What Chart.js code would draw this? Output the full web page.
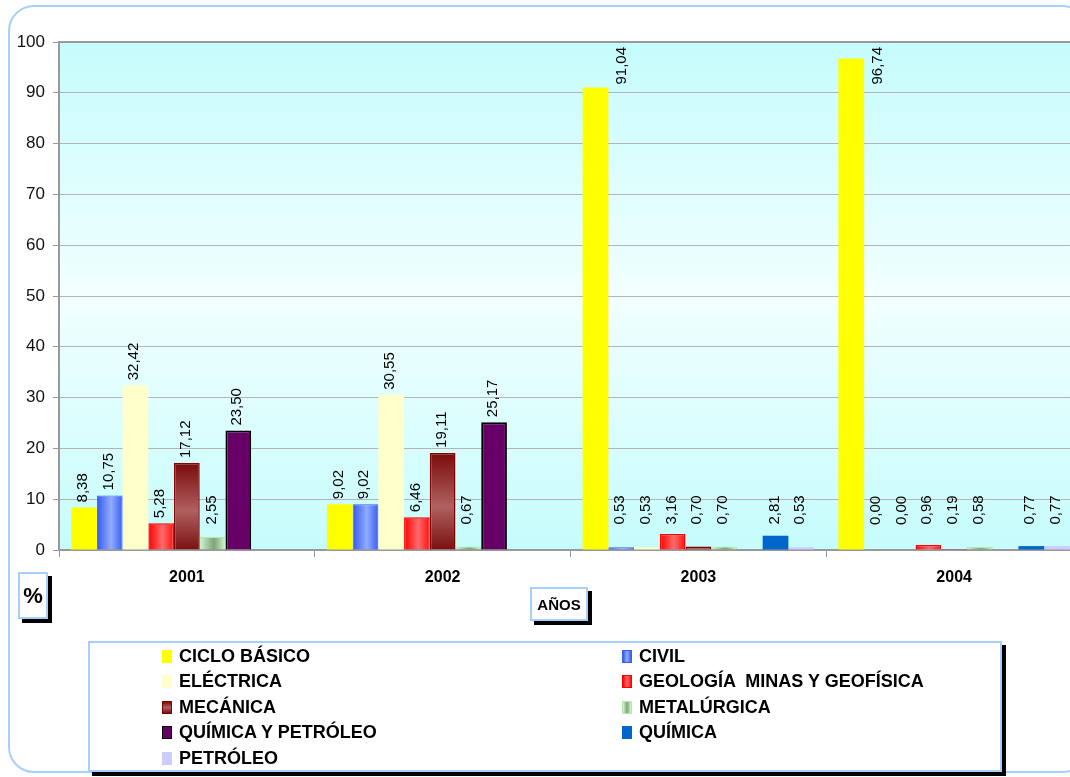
<!DOCTYPE html>
<html>
<head>
<meta charset="utf-8">
<script src="https://cdn.jsdelivr.net/npm/chart.js"></script>
<style>
  html, body { margin: 0; padding: 0; background: #fff; overflow: hidden; }
  body { width: 1070px; height: 777px; position: relative; font-family: Arial, "Liberation Sans", sans-serif; }
  #frame {
    position: absolute; left: 8px; top: 5px; width: 1080px; height: 768px;
    border: 2px solid #a8cffa; border-radius: 26px; box-sizing: border-box;
  }
  #chart { position: absolute; left: 0; top: 0; }
  .box {
    position: absolute; background: #fff; border: 2px solid #a8cffa;
    box-shadow: 4px 4px 0 #000; font-weight: bold; color: #000;
    display: flex; align-items: center; justify-content: center; box-sizing: border-box;
  }
  #pct { left: 18px; top: 572px; width: 30px; height: 47px; font-size: 22px; }
  #anos { left: 530px; top: 587px; width: 58px; height: 34px; font-size: 15px; }
  #legend {
    position: absolute; left: 88px; top: 641px; width: 914px; height: 131px;
    border: 2px solid #a8cffa; box-shadow: 4px 4px 0 #000; box-sizing: border-box; background: #fff;
  }
  .item {
    position: absolute; height: 20px; display: flex; align-items: center;
    font-weight: bold; font-size: 18px; color: #000; white-space: pre;
  }
  .sw { width: 10px; height: 13px; margin-right: 7px; box-sizing: border-box; }
</style>
</head>
<body>
<div id="frame"></div>
<canvas id="chart" width="1082" height="777"></canvas>
<div class="box" id="pct">%</div>
<div class="box" id="anos">AÑOS</div>
<div id="legend"></div>
<script>
// chart data
const years = ['2001', '2002', '2003', '2004'];
const seriesNames = ['CICLO BÁSICO', 'CIVIL', 'ELÉCTRICA', 'GEOLOGÍA  MINAS Y GEOFÍSICA', 'MECÁNICA',
                     'METALÚRGICA', 'QUÍMICA Y PETRÓLEO', 'QUÍMICA', 'PETRÓLEO'];
const cicloBasico = [8.38, 9.02, 91.04, 96.74];
const civil = [10.75, 9.02, 0.53, 0.00];
const electrica = [32.42, 30.55, 0.53, 0.00];
const geologia = [5.28, 6.46, 3.16, 0.96];
const mecanica = [17.12, 19.11, 0.70, 0.19];
const metalurgica = [2.55, 0.67, 0.70, 0.58];
const quimicaPetroleo = [23.50, 25.17, null, null];
const quimica = [null, null, 2.81, 0.77];
const petroleo = [null, null, 0.53, 0.77];
const yMin = 0, yMax = 100, yStep = 10;

const seriesValues = [cicloBasico, civil, electrica, geologia, mecanica, metalurgica, quimicaPetroleo, quimica, petroleo];

// colours: base, then gradient stops (h = horizontal, v = vertical)
const seriesStyle = [
    { fill: '#ffff00', border: '#ffff00', bw: 0 },
    { fill: '#4a6ef5', h: ['#3358f0', '#92acff', '#3a5ef2'], border: '#3a5ef2', bw: 1 },
    { fill: '#ffffcc', border: '#ffffcc', bw: 0 },
    { fill: '#ff3030', h: ['#ff0000', '#ff6a6a', '#ff1010'], border: '#ff0000', bw: 1.5 },
    { fill: '#a04040', v: ['#7a0a0a', '#b06060', '#7a1010'], border: '#800000', bw: 1.5 },
    { fill: '#b0dca8', h: ['#d4f6cc', '#7fa47a', '#d4f6cc'], border: '#b8e6b0', bw: 1 },
    { fill: '#660066', border: '#000000', bw: 2 },
    { fill: '#0066cc', border: '#0066cc', bw: 0 },
    { fill: '#ccccff', border: '#ccccff', bw: 0 }
];

const catPct = 0.905;

function barFill(i) {
    const st = seriesStyle[i];
    if (!st.h && !st.v) return st.fill;
    return function (ctx) {
        const chart = ctx.chart;
        const x = chart.scales.x, y = chart.scales.y;
        if (!chart.chartArea || !x || !y) return st.fill;
        const g = chart.ctx;
        if (st.h) {
            const catW = x.width / years.length;
            const groupW = catW * catPct;
            const slotW = groupW / seriesNames.length;
            const left = x.getPixelForValue(ctx.dataIndex) - groupW / 2 + ctx.datasetIndex * slotW;
            const grad = g.createLinearGradient(left, 0, left + slotW, 0);
            grad.addColorStop(0, st.h[0]);
            grad.addColorStop(0.55, st.h[1]);
            grad.addColorStop(1, st.h[2]);
            return grad;
        }
        const v = ctx.raw == null ? 0 : ctx.raw;
        const top = y.getPixelForValue(v), base = y.getPixelForValue(0);
        const grad = g.createLinearGradient(0, top, 0, base);
        grad.addColorStop(0, st.v[0]);
        grad.addColorStop(0.55, st.v[1]);
        grad.addColorStop(1, st.v[2]);
        return grad;
    };
}

const datasets = seriesNames.map((name, i) => ({
    label: name,
    data: seriesValues[i],
    backgroundColor: barFill(i),
    borderColor: seriesStyle[i].border,
    borderWidth: seriesStyle[i].bw,
    categoryPercentage: catPct,
    barPercentage: 1.0
}));

// plot background + top border
const plotBg = {
    id: 'plotBg',
    beforeDraw(chart) {
        const { ctx, chartArea: a } = chart;
        const grad = ctx.createLinearGradient(0, a.top, 0, a.bottom);
        grad.addColorStop(0, '#c6fcfc');
        grad.addColorStop(0.5, '#f2ffff');
        grad.addColorStop(1, '#c6fcfc');
        ctx.save();
        ctx.fillStyle = grad;
        ctx.fillRect(a.left, a.top, a.right - a.left, a.bottom - a.top);
        ctx.restore();
    },
    afterDraw(chart) {
        const { ctx, chartArea: a } = chart;
        ctx.save();
        ctx.strokeStyle = '#999999';
        ctx.lineWidth = 2;
        ctx.beginPath();
        ctx.moveTo(a.left - 1, a.top);
        ctx.lineTo(a.right, a.top);
        ctx.stroke();
        ctx.restore();
    }
};

// rotated value labels
const valueLabels = {
    id: 'valueLabels',
    afterDatasetsDraw(chart) {
        const { ctx, chartArea: a } = chart;
        ctx.save();
        ctx.font = '15px Arial, "Liberation Sans", sans-serif';
        ctx.fillStyle = '#000';
        ctx.textAlign = 'left';
        ctx.textBaseline = 'alphabetic';
        chart.data.datasets.forEach((ds, di) => {
            const meta = chart.getDatasetMeta(di);
            meta.data.forEach((bar, j) => {
                const v = ds.data[j];
                if (v == null) return;
                const txt = v.toFixed(2).replace('.', ',');
                const w = ctx.measureText(txt).width;
                let bx = bar.x + 3;
                let bottom = Math.min(bar.y - 5, bar.base - 25);
                if (bottom - w < a.top + 12) {
                    // no room above: put it beside the bar
                    bx = bar.x + bar.width + 5;
                    bottom = Math.max(bar.y - 3, a.top + 5 + w);
                }
                ctx.save();
                ctx.translate(bx, bottom);
                ctx.rotate(-Math.PI / 2);
                ctx.fillText(txt, 0, 0);
                ctx.restore();
            });
        });
        ctx.restore();
    }
};

new Chart(document.getElementById('chart'), {
    type: 'bar',
    data: { labels: years, datasets: datasets },
    plugins: [plotBg, valueLabels],
    options: {
        responsive: false,
        animation: false,
        layout: { padding: { left: 0, right: 0, top: 42, bottom: 187 } },
        plugins: { legend: { display: false }, tooltip: { enabled: false } },
        scales: {
            x: {
                grid: { offset: true, drawOnChartArea: false, drawTicks: true, tickLength: 7, color: '#999999' },
                border: { color: '#999999', width: 2 },
                ticks: {
                    color: '#000',
                    padding: 11,
                    font: { family: 'Arial, "Liberation Sans", sans-serif', size: 16, weight: 'bold' }
                },
                afterFit(scale) { scale.height = 40; }
            },
            y: {
                min: yMin,
                max: yMax,
                ticks: {
                    stepSize: yStep,
                    color: '#111',
                    padding: 8,
                    font: { family: 'Arial, "Liberation Sans", sans-serif', size: 17 }
                },
                grid: { color: '#b4b4b4', lineWidth: 1, tickColor: '#999999', tickLength: 6 },
                border: { color: '#999999', width: 2 },
                afterFit(scale) { scale.width = 59; }
            }
        }
    }
});

// legend in two columns
const legend = document.getElementById('legend');
seriesNames.forEach((name, i) => {
    const st = seriesStyle[i];
    const col = i % 2, row = Math.floor(i / 2);
    const item = document.createElement('div');
    item.className = 'item';
    item.style.left = (col === 0 ? 72 : 532) + 'px';
    item.style.top = (3 + row * 25.5) + 'px';
    const sw = document.createElement('span');
    sw.className = 'sw';
    if (st.h) sw.style.background = 'linear-gradient(to right,' + st.h.join(',') + ')';
    else if (st.v) sw.style.background = 'linear-gradient(to bottom,' + st.v.join(',') + ')';
    else sw.style.background = st.fill;
    if (st.bw) sw.style.border = '1px solid ' + st.border;
    const lbl = document.createElement('span');
    lbl.textContent = name;
    item.appendChild(sw);
    item.appendChild(lbl);
    legend.appendChild(item);
});
</script>
</body>
</html>
